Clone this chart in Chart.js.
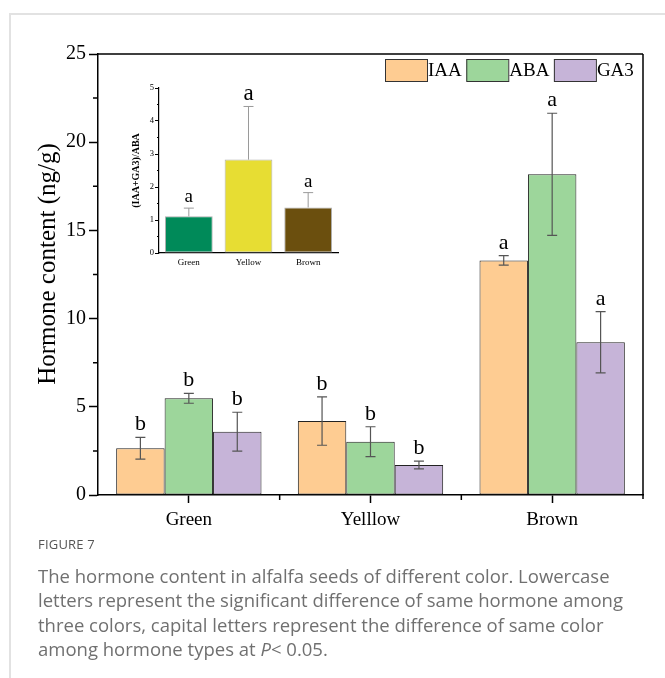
<!DOCTYPE html>
<html>
<head>
<meta charset="utf-8">
<script src="https://cdn.jsdelivr.net/npm/chart.js@4.4.1/dist/chart.umd.min.js"></script>
<style>
  html, body { margin: 0; padding: 0; background: #fff; }
  body { width: 665px; height: 678px; position: relative; overflow: hidden; }
  #frame { position: absolute; left: 9px; top: 13px; width: 680px; height: 700px;
           border-left: 2px solid #e2e2e2; border-top: 2px solid #e2e2e2; }
  #main { position: absolute; left: 0; top: 0; }
  #inset { position: absolute; left: 100px; top: 70px; }
  #caption { position: absolute; left: 38px; top: 534px; font-family: "Open Sans", sans-serif; color: #707070; }
  #caption .fig { font-size: 13px; color: #555; letter-spacing: 0.2px; line-height: 20px; }
  #caption .txt { font-size: 18.5px; line-height: 24.3px; margin-top: 10px; white-space: nowrap; }
</style>
</head>
<body>
<div id="frame"></div>
<canvas id="main" width="665" height="535"></canvas>
<canvas id="inset" width="250" height="205"></canvas>
<div id="caption">
  <div class="fig">FIGURE 7</div>
  <div class="txt">The hormone content in alfalfa seeds of different color. Lowercase<br>letters represent the significant difference of same hormone among<br>three colors, capital letters represent the difference of same color<br>among hormone types at <i>P</i>&lt; 0.05.</div>
</div>
<script>
// Seed colour groups and hormone series
const categories = ['Green', 'Yelllow', 'Brown'];
const seriesNames = ['IAA', 'ABA', 'GA3'];

// Mean hormone content (ng/g) and standard deviations
const iaaMean = [2.65, 4.19, 13.30];
const iaaErr  = [0.62, 1.37, 0.27];
const abaMean = [5.48, 3.02, 18.18];
const abaErr  = [0.28, 0.85, 3.46];
const ga3Mean = [3.59, 1.70, 8.66];
const ga3Err  = [1.10, 0.22, 1.74];

// Significance letters above each bar
const iaaLetters = ['b', 'b', 'a'];
const abaLetters = ['b', 'b', 'a'];
const ga3Letters = ['b', 'b', 'a'];

const yTicks = [0, 5, 10, 15, 20, 25];

// Ratio (IAA+GA3)/ABA per seed colour
const ratioCategories = ['Green', 'Yellow', 'Brown'];
const ratioMean = [1.11, 2.83, 1.38];
const ratioErr  = [0.25, 1.61, 0.45];
const ratioLetters = ['a', 'a', 'a'];
const ratioTicks = [0, 1, 2, 3, 4, 5];

const SERIF = '"Liberation Serif", "Times New Roman", serif';

// Draws error bars and significance letters for every bar of the chart
const errorBarPlugin = {
  id: 'errorBars',
  afterDatasetsDraw(chart, args, opts) {
    const ctx = chart.ctx;
    const y = chart.scales.y;
    chart.data.datasets.forEach((ds, di) => {
      const meta = chart.getDatasetMeta(di);
      meta.data.forEach((bar, i) => {
        const v = ds.data[i], e = ds.errors[i];
        const yTop = y.getPixelForValue(v + e);
        const yBot = opts.upperOnly ? y.getPixelForValue(v) : y.getPixelForValue(v - e);
        ctx.save();
        ctx.strokeStyle = ds.errorColor || '#555';
        ctx.lineWidth = opts.lineWidth || 1.2;
        ctx.beginPath();
        ctx.moveTo(bar.x, yTop); ctx.lineTo(bar.x, yBot);
        ctx.moveTo(bar.x - opts.cap, yTop); ctx.lineTo(bar.x + opts.cap, yTop);
        if (!opts.upperOnly) { ctx.moveTo(bar.x - opts.cap, yBot); ctx.lineTo(bar.x + opts.cap, yBot); }
        ctx.stroke();
        const size = Array.isArray(ds.letterSize) ? ds.letterSize[i] : ds.letterSize;
        ctx.fillStyle = '#000';
        ctx.font = size + 'px ' + SERIF;
        ctx.textAlign = 'center';
        ctx.textBaseline = 'alphabetic';
        ctx.fillText(ds.letters[i], bar.x, yTop - opts.gap);
        ctx.restore();
      });
    });
  }
};

// Frame, minor ticks, legend and axis title of the main chart
const mainDecor = {
  id: 'mainDecor',
  afterDraw(chart) {
    const ctx = chart.ctx;
    const a = chart.chartArea;
    const x = chart.scales.x, y = chart.scales.y;
    ctx.save();
    ctx.strokeStyle = '#000';
    ctx.lineWidth = 1.5;
    ctx.beginPath();
    ctx.moveTo(a.left, a.top); ctx.lineTo(a.right, a.top);
    ctx.moveTo(a.right, a.top); ctx.lineTo(a.right, a.bottom + 4);
    // minor y ticks between the labelled ones
    for (let k = 0; k < yTicks.length - 1; k++) {
      const py = y.getPixelForValue((yTicks[k] + yTicks[k + 1]) / 2);
      ctx.moveTo(a.left - 5, py); ctx.lineTo(a.left, py);
    }
    // minor x ticks between categories
    for (let k = 0; k < categories.length - 1; k++) {
      const px = (x.getPixelForValue(k) + x.getPixelForValue(k + 1)) / 2;
      ctx.moveTo(px, a.bottom); ctx.lineTo(px, a.bottom + 5);
    }
    ctx.stroke();

    // legend inside the top right corner
    ctx.font = '19px ' + SERIF;
    ctx.textBaseline = 'middle';
    ctx.textAlign = 'left';
    let lx = 385;
    chart.data.datasets.forEach(ds => {
      ctx.fillStyle = ds.backgroundColor;
      ctx.fillRect(lx, 59, 42, 22);
      ctx.strokeStyle = '#333';
      ctx.lineWidth = 1;
      ctx.strokeRect(lx + 0.5, 59.5, 42, 22);
      ctx.fillStyle = '#000';
      ctx.fillText(ds.label, lx + 43, 71);
      lx += 43 + ctx.measureText(ds.label).width + 4.5;
    });

    // y axis title
    ctx.translate(48, 264);
    ctx.rotate(-Math.PI / 2);
    ctx.textAlign = 'center';
    ctx.font = '25px ' + SERIF;
    ctx.fillText('Hormone content (ng/g)', 0, 0);
    ctx.restore();
  }
};

const mainColors = ['#FECC92', '#9DD69B', '#C6B4D8'];
const means = [iaaMean, abaMean, ga3Mean];
const errs = [iaaErr, abaErr, ga3Err];
const letters = [iaaLetters, abaLetters, ga3Letters];

new Chart(document.getElementById('main'), {
  type: 'bar',
  data: {
    labels: categories,
    datasets: seriesNames.map((name, k) => ({
      label: name,
      data: means[k],
      errors: errs[k],
      letters: letters[k],
      letterSize: 22,
      backgroundColor: mainColors[k],
      borderColor: '#222',
      borderWidth: 1,
      borderSkipped: false,
      barPercentage: 1,
      categoryPercentage: 0.8
    }))
  },
  options: {
    responsive: false,
    animation: false,
    devicePixelRatio: 1,
    layout: { padding: { left: 0, top: 54, right: 22, bottom: 0 } },
    plugins: {
      legend: { display: false },
      tooltip: { enabled: false },
      errorBars: { cap: 5, gap: 7, lineWidth: 1.2 }
    },
    scales: {
      x: {
        grid: { display: true, drawOnChartArea: false, offset: false, tickLength: 8, tickColor: '#000', tickWidth: 1.5 },
        border: { color: '#000', width: 1.5 },
        ticks: { font: { family: SERIF, size: 19 }, color: '#000', padding: 6 },
        afterFit(s) { s.height = 40; }
      },
      y: {
        min: 0, max: 25,
        afterBuildTicks(s) { s.ticks = yTicks.map(v => ({ value: v })); },
        grid: { display: true, drawOnChartArea: false, tickLength: 9, tickColor: '#000', tickWidth: 1.5 },
        border: { color: '#000', width: 1.5 },
        ticks: { font: { family: SERIF, size: 20 }, color: '#000', padding: 3 },
        afterFit(s) { s.width = 98; }
      }
    }
  },
  plugins: [errorBarPlugin, mainDecor]
});

// Inset: ratio chart with its own minor ticks
const insetDecor = {
  id: 'insetDecor',
  afterDraw(chart) {
    const ctx = chart.ctx;
    const a = chart.chartArea;
    const y = chart.scales.y;
    ctx.save();
    ctx.strokeStyle = '#000';
    ctx.lineWidth = 1;
    ctx.beginPath();
    for (let k = 0; k < ratioTicks.length - 1; k++) {
      const py = y.getPixelForValue((ratioTicks[k] + ratioTicks[k + 1]) / 2);
      ctx.moveTo(a.left - 2, py); ctx.lineTo(a.left, py);
    }
    ctx.stroke();
    ctx.restore();
  }
};

new Chart(document.getElementById('inset'), {
  type: 'bar',
  data: {
    labels: ratioCategories,
    datasets: [{
      label: '(IAA+GA3)/ABA',
      data: ratioMean,
      errors: ratioErr,
      letters: ratioLetters,
      letterSize: [19, 23, 19],
      errorColor: '#9a9a9a',
      backgroundColor: ['#008A59', '#E7DD33', '#6B4F0E'],
      borderColor: '#b0b0b0',
      borderWidth: 1,
      borderSkipped: false,
      barPercentage: 0.8,
      categoryPercentage: 1
    }]
  },
  options: {
    responsive: false,
    animation: false,
    devicePixelRatio: 1,
    layout: { padding: { left: 0, top: 18, right: 12, bottom: 0 } },
    plugins: {
      legend: { display: false },
      tooltip: { enabled: false },
      errorBars: { cap: 5, gap: 6, lineWidth: 1, upperOnly: true }
    },
    scales: {
      x: {
        grid: { display: false, drawTicks: false },
        border: { color: '#000', width: 1.2 },
        ticks: { font: { family: SERIF, size: 9 }, color: '#000', padding: 4 },
        afterFit(s) { s.height = 22; }
      },
      y: {
        min: 0, max: 5,
        afterBuildTicks(s) { s.ticks = ratioTicks.map(v => ({ value: v })); },
        grid: { display: true, drawOnChartArea: false, tickLength: 4, tickColor: '#000', tickWidth: 1 },
        border: { color: '#000', width: 1.2 },
        ticks: { font: { family: SERIF, size: 8.5 }, color: '#000', padding: 1 },
        title: { display: true, text: '(IAA+GA3)/ABA', font: { family: SERIF, size: 10, weight: 'bold' }, color: '#000', padding: { top: 30, bottom: 0 } },
        afterFit(s) { s.width = 59; }
      }
    }
  },
  plugins: [errorBarPlugin, insetDecor]
});
</script>
</body>
</html>
